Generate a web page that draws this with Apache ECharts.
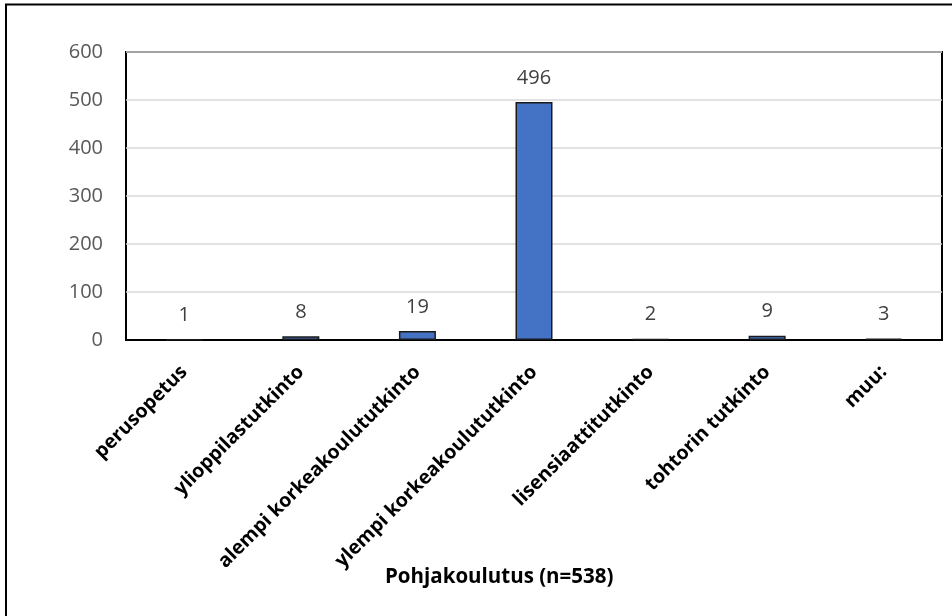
<!DOCTYPE html>
<html>
<head>
<meta charset="utf-8">
<script src="https://cdn.jsdelivr.net/npm/echarts@6/dist/echarts.min.js"></script>
<style>
html,body{margin:0;padding:0;background:#fff;}
#chart{width:952px;height:616px;}
</style>
</head>
<body>
<div id="chart"></div>
<script>
var categories = ["perusopetus", "ylioppilastutkinto", "alempi korkeakoulututkinto", "ylempi korkeakoulututkinto", "lisensiaattitutkinto", "tohtorin tutkinto", "muu:"];
var values = [1, 8, 19, 496, 2, 9, 3];
var yTicks = [0, 100, 200, 300, 400, 500, 600];
var axisTitle = "Pohjakoulutus (n=538)";

var chart = echarts.init(document.getElementById('chart'), null, {renderer: 'canvas'});
chart.setOption({
  animation: false,
  backgroundColor: '#fff',
  textStyle: {fontFamily: 'Open Sans'},
  title: {
    text: axisTitle,
    left: 385,
    top: 567,
    padding: 0,
    textStyle: {fontFamily: 'Open Sans', fontSize: 20.5, fontWeight: 'bold', color: '#000'}
  },
  graphic: [{
    type: 'rect',
    shape: {x: 6, y: 4.5, width: 1000, height: 1000},
    style: {fill: 'none', stroke: '#000', lineWidth: 2},
    silent: true,
    z: 100
  }],
  grid: {
    left: 126, top: 52, right: 10, bottom: 276,
    show: true, borderColor: '#000', borderWidth: 2, backgroundColor: '#fff'
  },
  xAxis: {
    type: 'category',
    data: categories,
    axisLine: {show: true, lineStyle: {color: '#000', width: 2}},
    axisTick: {show: false},
    axisLabel: {
      interval: 0, rotate: 45, margin: 29,
      fontFamily: 'Open Sans', fontSize: 19.5, fontWeight: 'bold', color: '#000'
    }
  },
  yAxis: {
    type: 'value',
    min: yTicks[0], max: yTicks[yTicks.length - 1], interval: 100,
    axisLine: {show: false},
    axisTick: {show: false},
    splitLine: {lineStyle: {color: '#d9d9d9', width: 1.5}},
    axisLabel: {margin: 23, fontFamily: 'Open Sans', fontSize: 20, color: '#595959'}
  },
  series: [{
    type: 'bar',
    data: values,
    barWidth: 37,
    itemStyle: {color: '#4472C4', borderColor: '#1a1a1a', borderWidth: 1.5},
    label: {
      show: true, position: 'top', distance: 14,
      fontFamily: 'Open Sans', fontSize: 20, color: '#404040'
    }
  }]
});
</script>
</body>
</html>
